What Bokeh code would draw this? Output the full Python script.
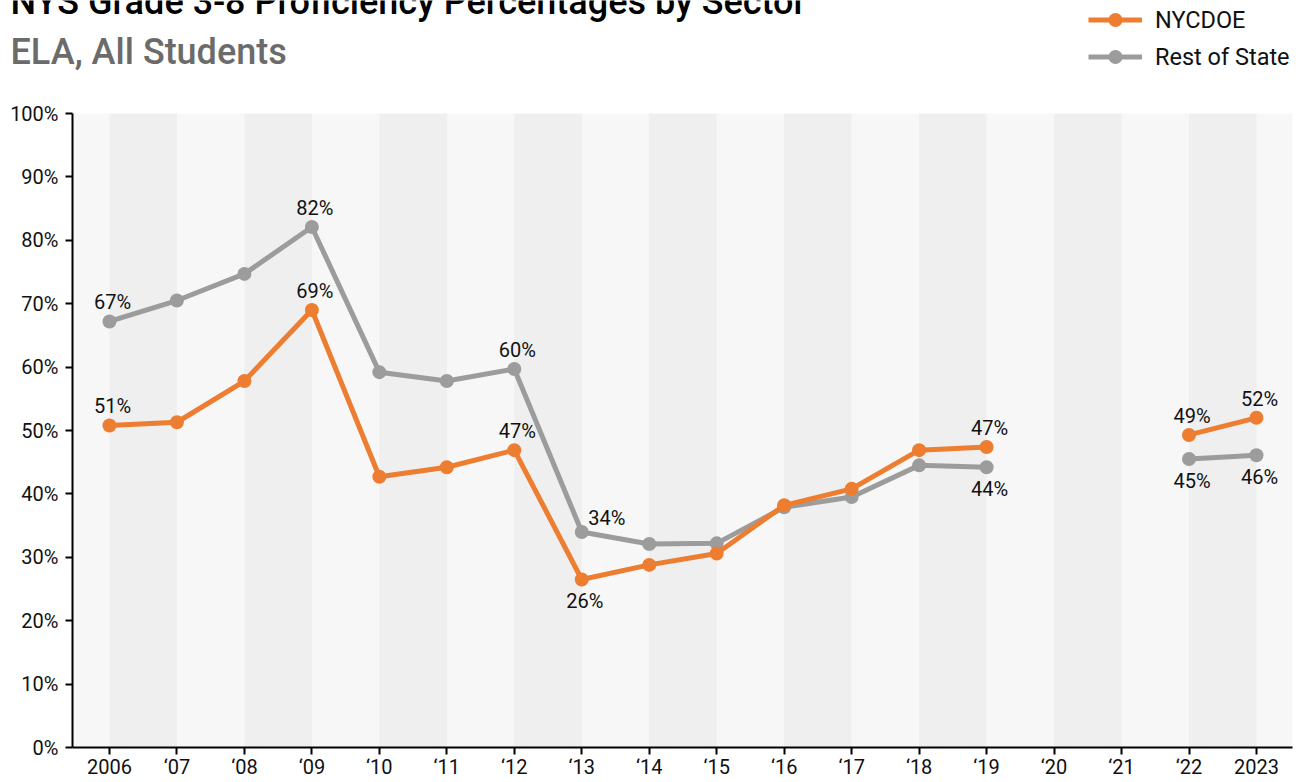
from bokeh.plotting import figure
from bokeh.layouts import column
from bokeh.models import (Range1d, FixedTicker, Legend, LegendItem,
                          ColumnDataSource)
from bokeh.core.properties import value
from bokeh.embed import file_html
from bokeh.resources import INLINE

nan = float("nan")

# ---------------- data ----------------
years = [2006, 2007, 2008, 2009, 2010, 2011, 2012, 2013, 2014, 2015,
         2016, 2017, 2018, 2019, 2020, 2021, 2022, 2023]
x_tick_labels = ["2006", "\u201807", "\u201808", "\u201809", "\u201810", "\u201811",
                 "\u201812", "\u201813", "\u201814", "\u201815", "\u201816", "\u201817",
                 "\u201818", "\u201819", "\u201820", "\u201821", "\u201822", "2023"]
nycdoe = [50.8, 51.3, 57.8, 69.0, 42.7, 44.2, 46.9, 26.5, 28.8, 30.6,
          38.2, 40.8, 46.9, 47.4, nan, nan, 49.3, 52.0]
rest_of_state = [67.2, 70.5, 74.7, 82.1, 59.2, 57.8, 59.7, 34.0, 32.1, 32.2,
                 37.9, 39.5, 44.5, 44.2, nan, nan, 45.5, 46.1]
y_ticks = [0, 10, 20, 30, 40, 50, 60, 70, 80, 90, 100]

label_years = [2006, 2009, 2012, 2013, 2019, 2022, 2023]
nycdoe_labels = ["51%", "69%", "47%", "26%", "47%", "49%", "52%"]
nycdoe_label_side = ["above", "above", "above", "below", "above", "above", "above"]
rest_labels = ["67%", "82%", "60%", "34%", "44%", "45%", "46%"]
rest_label_side = ["above", "above", "above", "right", "below", "below", "below"]

series_names = ["NYCDOE", "Rest of State"]
title_text = "NYS Grade 3-8 Proficiency Percentages by Sector"
subtitle_text = "ELA, All Students"

ORANGE = "#ED7D31"
GRAY = "#9C9C9C"
FONT = "Roboto"
TITLE_FONT = "'Roboto Medium', Roboto"
TOTAL_W = 1299
HEADER_H = 80

# ---------------- header (titles + legend) ----------------
h = figure(width=TOTAL_W, height=HEADER_H, output_backend="svg", toolbar_location=None,
           x_range=Range1d(0, TOTAL_W), y_range=Range1d(HEADER_H, 0),
           x_axis_type=None, y_axis_type=None,
           min_border=0, min_border_left=0, min_border_right=0,
           min_border_top=0, min_border_bottom=0)
h.frame_align = False
h.outline_line_color = None
h.background_fill_color = "white"
h.border_fill_color = "white"
h.xgrid.visible = False
h.ygrid.visible = False

h.text(x=[10], y=[1], text=[title_text], text_font=value(TITLE_FONT),
       text_font_size="36px", text_color="black",
       text_baseline="middle", text_align="left")
h.text(x=[10], y=[51], text=[subtitle_text], text_font=value(TITLE_FONT),
       text_font_size="36px", text_color="#6B6B6B",
       text_baseline="middle", text_align="left")

# legend proxies (no visible data of their own)
proxy = ColumnDataSource(dict(x=[nan], y=[nan]))
hl_ny = h.line("x", "y", source=proxy, line_color=ORANGE, line_width=5)
hs_ny = h.scatter("x", "y", source=proxy, size=15, fill_color=ORANGE, line_color=None)
hl_rs = h.line("x", "y", source=proxy, line_color=GRAY, line_width=5)
hs_rs = h.scatter("x", "y", source=proxy, size=15, fill_color=GRAY, line_color=None)

legend = Legend(items=[LegendItem(label=value(series_names[0]), renderers=[hl_ny, hs_ny]),
                       LegendItem(label=value(series_names[1]), renderers=[hl_rs, hs_rs])],
                location=(1088, 6), orientation="vertical",
                glyph_width=54, glyph_height=35, label_height=35, spacing=2,
                label_standoff=13, padding=0, margin=0,
                border_line_alpha=0, background_fill_alpha=0,
                label_text_font=FONT, label_text_font_size="23.5px",
                label_text_color="#111111", label_text_baseline="middle")
h.add_layout(legend)

# ---------------- main chart ----------------
p = figure(width=TOTAL_W, height=782 - HEADER_H, output_backend="svg",
           toolbar_location=None,
           x_range=Range1d(2005.452, 2023.534), y_range=Range1d(0, 100),
           min_border_left=72, min_border_right=7, min_border_top=33,
           min_border_bottom=35)
p.frame_align = False
p.background_fill_color = "#F7F7F7"
p.border_fill_color = "white"
p.outline_line_color = None
p.xgrid.visible = False
p.ygrid.visible = False

band_left = [y for y in years if (y - years[0]) % 2 == 0]
band_right = [y + 1 for y in band_left]
p.quad(left=band_left, right=band_right, bottom=0, top=100,
       fill_color="#EFEFEF", line_color=None)

for ax in (p.xaxis[0], p.yaxis[0]):
    ax.axis_line_color = "black"
    ax.axis_line_width = 2
    ax.major_tick_line_color = "black"
    ax.major_tick_line_width = 2
    ax.major_tick_out = 7
    ax.major_tick_in = 0
    ax.minor_tick_line_color = None
    ax.major_label_text_font = FONT
    ax.major_label_text_font_size = "20px"
    ax.major_label_text_color = "#111111"

p.xaxis.ticker = FixedTicker(ticks=years)
p.xaxis.major_label_overrides = {y: l for y, l in zip(years, x_tick_labels)}
p.xaxis.major_label_standoff = 0
p.yaxis.ticker = FixedTicker(ticks=y_ticks)
p.yaxis.major_label_overrides = {t: f"{t}%" for t in y_ticks}
p.yaxis.major_label_standoff = 7

src_ny = ColumnDataSource(dict(x=years, y=nycdoe))
src_rs = ColumnDataSource(dict(x=years, y=rest_of_state))
p.line("x", "y", source=src_rs, line_color=GRAY, line_width=5)
p.scatter("x", "y", source=src_rs, size=14, fill_color=GRAY, line_color=None)
p.line("x", "y", source=src_ny, line_color=ORANGE, line_width=5)
p.scatter("x", "y", source=src_ny, size=14, fill_color=ORANGE, line_color=None)

OFFSETS = {"above": (3, -19), "below": (3, 22), "right": (25, -14)}

def add_labels(series, texts, sides):
    xs, ys, xo, yo = [], [], [], []
    for yr, side in zip(label_years, sides):
        xs.append(yr)
        ys.append(series[years.index(yr)])
        xo.append(OFFSETS[side][0])
        yo.append(OFFSETS[side][1])
    src = ColumnDataSource(dict(x=xs, y=ys, t=texts, xo=xo, yo=yo))
    p.text("x", "y", text="t", x_offset="xo", y_offset="yo", source=src,
           text_font=value(FONT), text_font_size="20px", text_color="#111111",
           text_align="center", text_baseline="middle")

add_labels(nycdoe, nycdoe_labels, nycdoe_label_side)
add_labels(rest_of_state, rest_labels, rest_label_side)

layout = column(h, p, spacing=0)
open("out.html", "w").write(file_html(layout, INLINE))
